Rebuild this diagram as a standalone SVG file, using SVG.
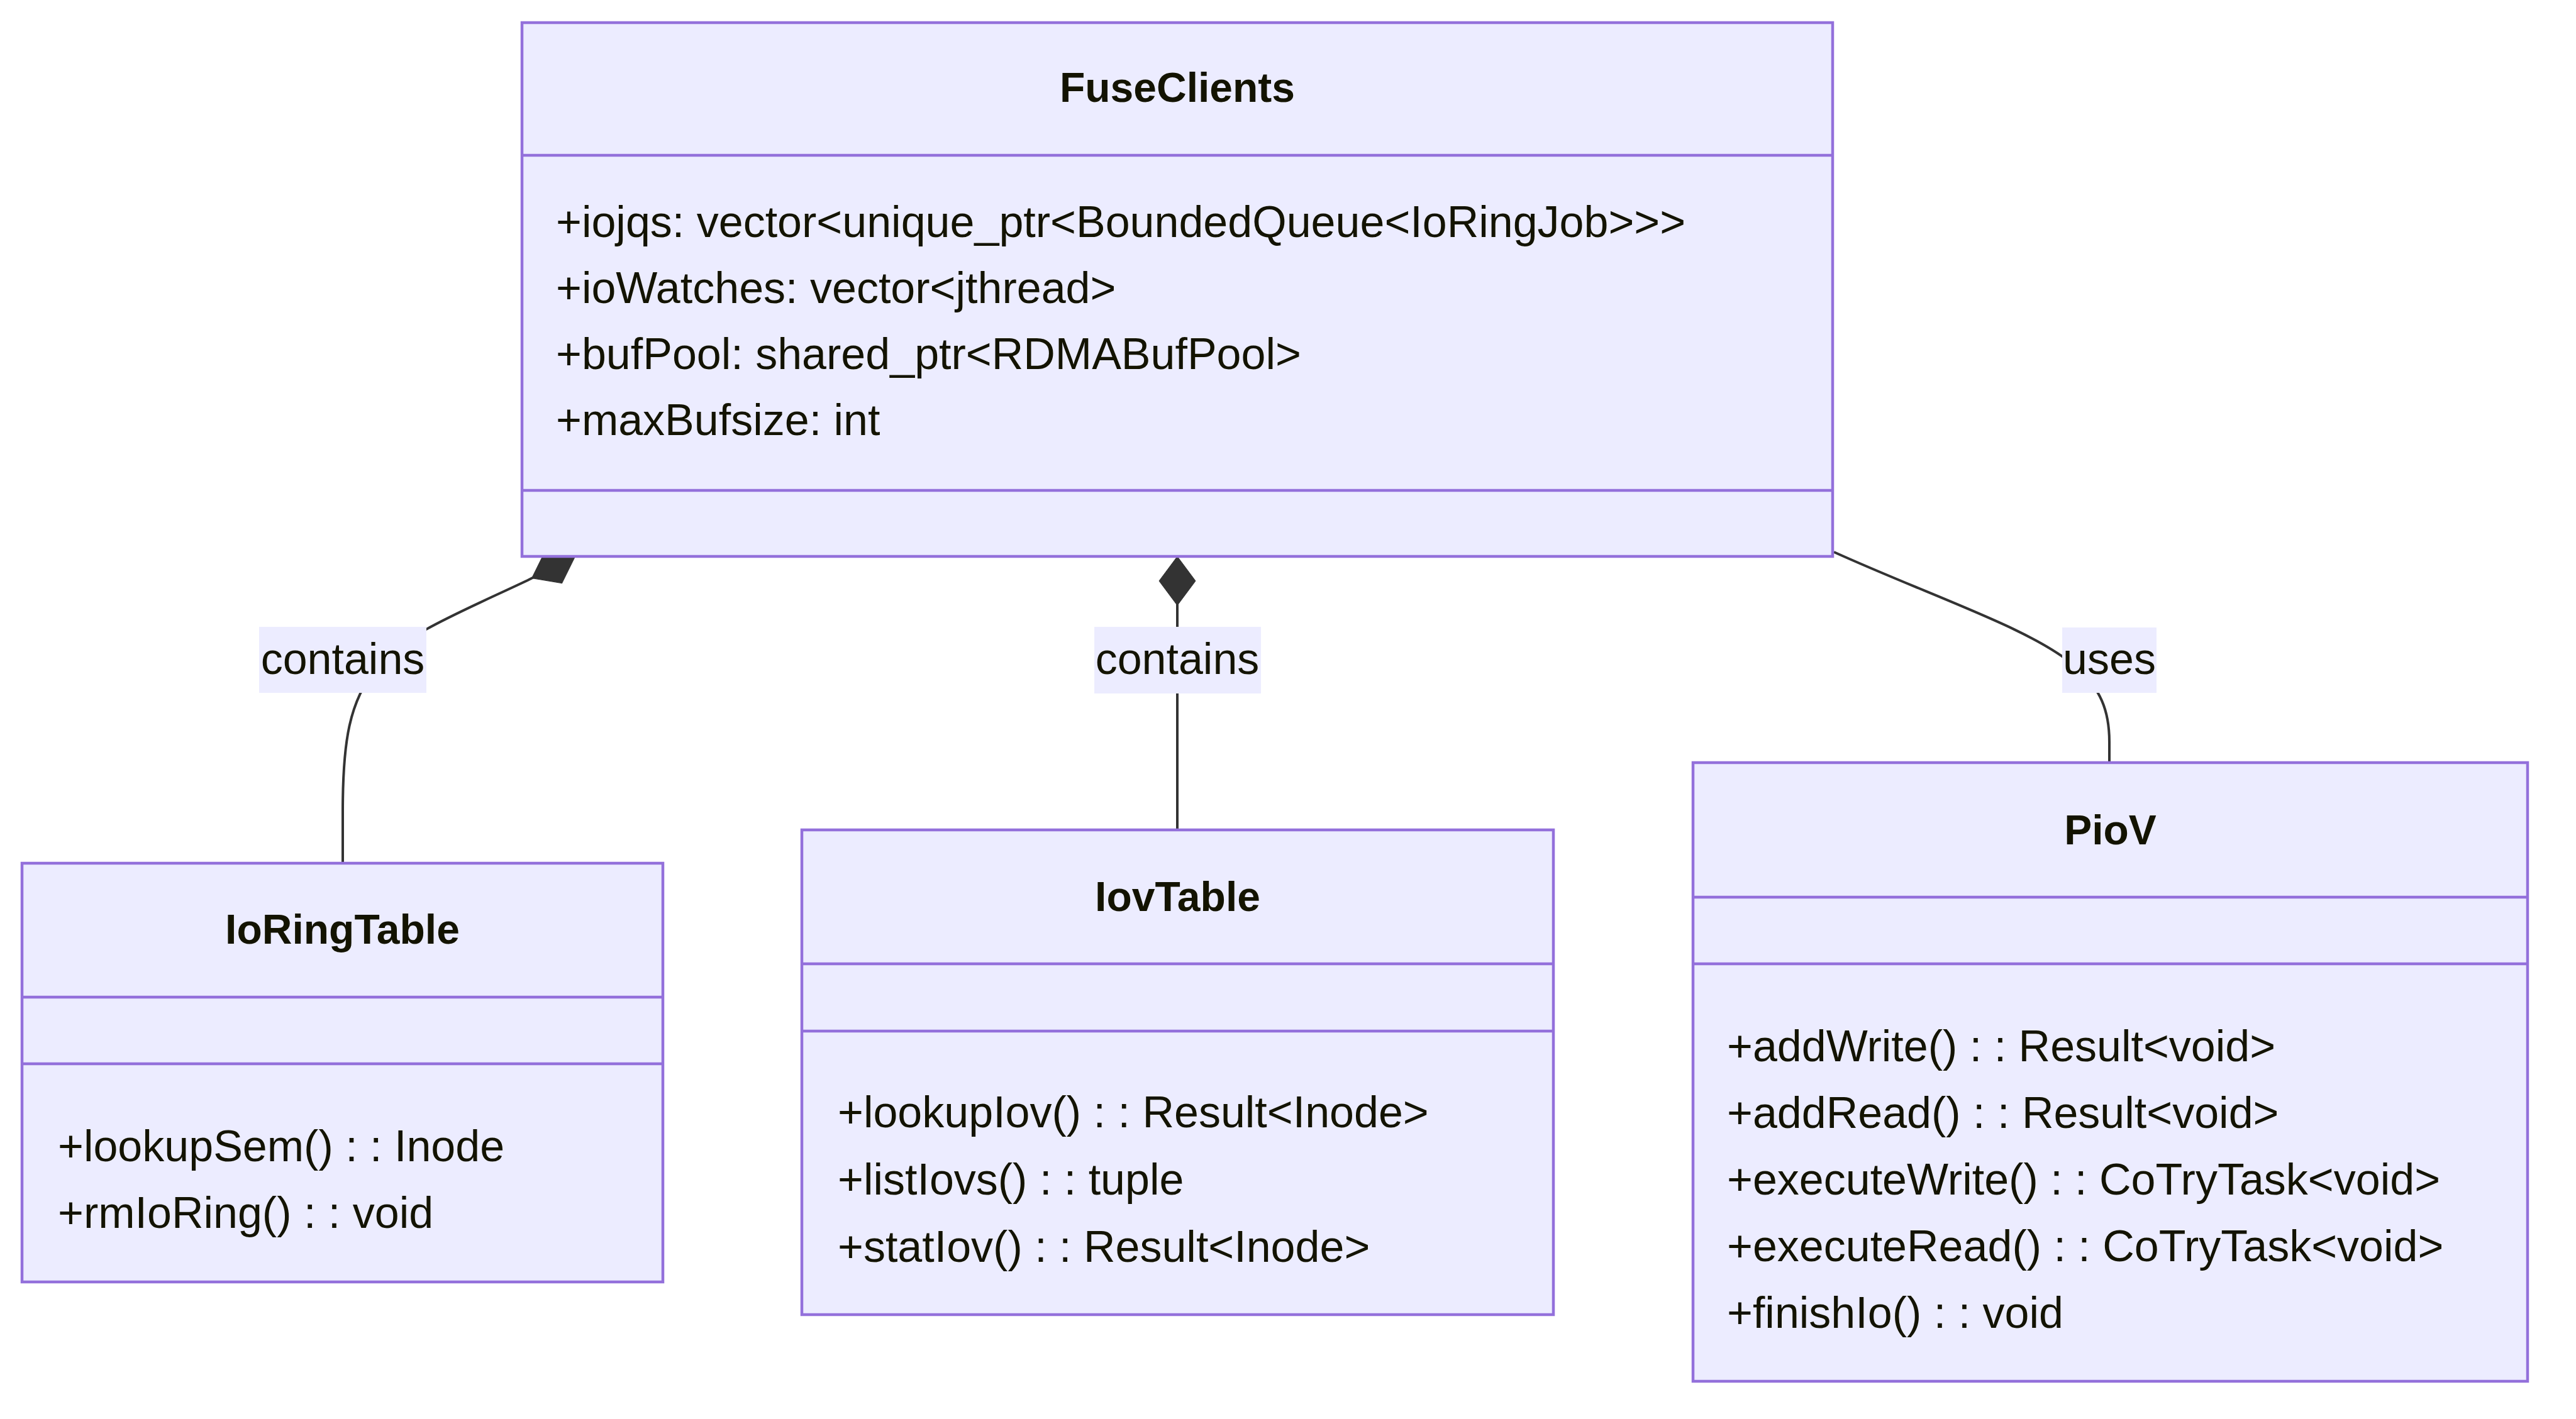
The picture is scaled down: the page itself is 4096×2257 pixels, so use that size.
<svg xmlns="http://www.w3.org/2000/svg" width="4096" height="2257" viewBox="0 0 4096 2257">
<style>
.box{fill:#ECECFF;stroke:#9370DB;stroke-width:4.5}
.div{stroke:#9370DB;stroke-width:4.5}
.title{font-family:"Liberation Sans",Arial,sans-serif;font-weight:bold;font-size:66px;fill:#131300;text-anchor:middle}
.member{font-family:"Liberation Sans",Arial,sans-serif;font-size:70px;fill:#131300}
.edge{fill:none;stroke:#333333;stroke-width:4}
.lbg{fill:#ECECFF}
.ltext{font-family:"Liberation Sans",Arial,sans-serif;font-size:70px;fill:#131300;text-anchor:middle}
</style>
<defs>
<marker id="comp" markerUnits="userSpaceOnUse" viewBox="-2 -32 84 64" refX="0" refY="0" markerWidth="84" markerHeight="64" orient="auto">
<path d="M0,0 L39,-29 L78,0 L39,29 Z" fill="#333333" stroke="#333333" stroke-width="1"/>
</marker>
</defs>
<rect width="4096" height="2257" fill="#ffffff"/>
<g id="connectors">
<path class="edge" marker-start="url(#comp)" d="M915,884 L839,923 C740,970 640,1010 600,1060 C555,1115 545,1180 545,1290 L545,1373"/>
<path class="edge" marker-start="url(#comp)" d="M1872,885 L1872,1320"/>
<path class="edge" d="M2916,878 C3080,952 3230,1000 3300,1060 C3340,1095 3354,1130 3354,1180 L3354,1213"/>
</g>
<g id="labels">
<g id="label-contains-1"><rect class="lbg" x="412" y="997" width="266" height="105"/><text class="ltext" x="545" y="1072">contains</text></g>
<g id="label-contains-2"><rect class="lbg" x="1740" y="997" width="265" height="106"/><text class="ltext" x="1872" y="1072">contains</text></g>
<g id="label-uses"><rect class="lbg" x="3279" y="998" width="150" height="104"/><text class="ltext" x="3354" y="1072">uses</text></g>
</g>
<g id="FuseClients">
<rect class="box" x="830" y="36" width="2084" height="849"/>
<line class="div" x1="830" y1="247" x2="2914" y2="247"/>
<line class="div" x1="830" y1="780" x2="2914" y2="780"/>
<text class="title" x="1872" y="162">FuseClients</text>
<text class="member" x="884" y="377">+iojqs: vector&lt;unique_ptr&lt;BoundedQueue&lt;IoRingJob&gt;&gt;&gt;</text>
<text class="member" x="884" y="482">+ioWatches: vector&lt;jthread&gt;</text>
<text class="member" x="884" y="587">+bufPool: shared_ptr&lt;RDMABufPool&gt;</text>
<text class="member" x="884" y="692">+maxBufsize: int</text>
</g>
<g id="IoRingTable">
<rect class="box" x="35" y="1373" width="1019" height="666"/>
<line class="div" x1="35" y1="1586" x2="1054" y2="1586"/>
<line class="div" x1="35" y1="1692" x2="1054" y2="1692"/>
<text class="title" x="544.5" y="1501">IoRingTable</text>
<text class="member" x="92" y="1847">+lookupSem() : : Inode</text>
<text class="member" x="92" y="1953">+rmIoRing() : : void</text>
</g>
<g id="IovTable">
<rect class="box" x="1275" y="1320" width="1195" height="771"/>
<line class="div" x1="1275" y1="1533" x2="2470" y2="1533"/>
<line class="div" x1="1275" y1="1640" x2="2470" y2="1640"/>
<text class="title" x="1872.5" y="1449">IovTable</text>
<text class="member" x="1332" y="1793">+lookupIov() : : Result&lt;Inode&gt;</text>
<text class="member" x="1332" y="1900">+listIovs() : : tuple</text>
<text class="member" x="1332" y="2007">+statIov() : : Result&lt;Inode&gt;</text>
</g>
<g id="PioV">
<rect class="box" x="2692" y="1213" width="1327" height="984"/>
<line class="div" x1="2692" y1="1427" x2="4019" y2="1427"/>
<line class="div" x1="2692" y1="1533" x2="4019" y2="1533"/>
<text class="title" x="3355.5" y="1343">PioV</text>
<text class="member" x="2746" y="1688">+addWrite() : : Result&lt;void&gt;</text>
<text class="member" x="2746" y="1794">+addRead() : : Result&lt;void&gt;</text>
<text class="member" x="2746" y="1900">+executeWrite() : : CoTryTask&lt;void&gt;</text>
<text class="member" x="2746" y="2006">+executeRead() : : CoTryTask&lt;void&gt;</text>
<text class="member" x="2746" y="2112">+finishIo() : : void</text>
</g>
</svg>
